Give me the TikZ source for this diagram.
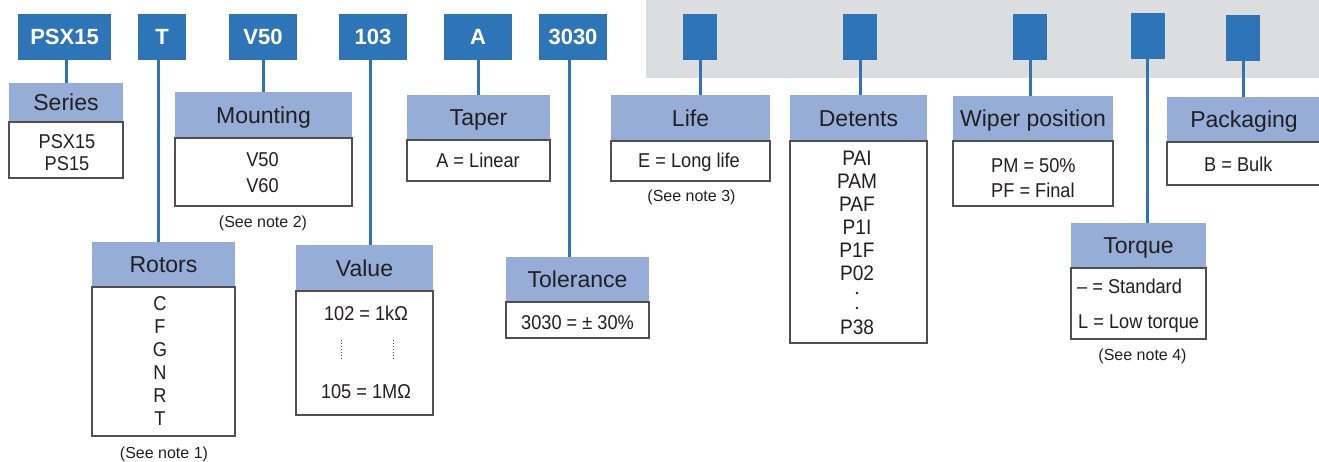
\documentclass[tikz,border=0pt]{standalone}
\usepackage{fontspec}
\setmainfont{Liberation Sans}
\newfontfamily\condfont[FakeStretch=0.91]{Liberation Sans}
\definecolor{codeblue}{HTML}{2E75B8}
\definecolor{hdrblue}{HTML}{95ADD7}
\definecolor{bandgray}{HTML}{DCDDDF}
\definecolor{txt}{HTML}{231F20}
\definecolor{bord}{HTML}{505050}
\tikzset{
  codebox/.style={fill=codeblue, draw=none, text=white, font=\fontsize{22}{26}\selectfont\bfseries, inner sep=0pt, minimum height=46pt, text height=15.75pt, text depth=0pt},
  hdr/.style={fill=hdrblue, draw=none, text=txt, font=\fontsize{23}{27}\selectfont, inner sep=0pt, text height=16.5pt, text depth=0pt},
  bodybox/.style={draw=bord, line width=1.2pt, fill=white, inner sep=0pt},
  bt/.style={text=txt, font=\condfont\fontsize{20}{23}\selectfont, inner sep=0pt, text height=14.3pt, text depth=0pt},
  btl/.style={bt, font=\condfont\fontsize{21}{24}\selectfont, text height=15pt},
  notetext/.style={text=txt, font=\fontsize{16}{19}\selectfont, inner sep=0pt, text height=11.5pt, text depth=0pt},
  conn/.style={draw=codeblue, line width=3pt},
  dotline/.style={draw=black!70, line width=0.7pt, dash pattern=on 1.2pt off 1.8pt},
}
\begin{document}
\begin{tikzpicture}[x=1pt, y=-1pt]
\useasboundingbox (0,0) rectangle (1319,461);
\fill[bandgray] (646,0) rectangle (1319,78);

% code boxes
\node[codebox, minimum width=93pt] (cPSX) at (64.5,37) {PSX15};
\node[codebox, minimum width=48pt] (cT) at (162,37) {T};
\node[codebox, minimum width=68pt] (cV) at (263,37) {V50};
\node[codebox, minimum width=68pt] (c103) at (373,37) {103};
\node[codebox, minimum width=68pt] (cA) at (478,37) {A};
\node[codebox, minimum width=68pt] (c3030) at (573,37) {3030};
\node[codebox, minimum width=34pt] (cLife) at (700,37) {};
\node[codebox, minimum width=34pt] (cDet) at (860,37) {};
\node[codebox, minimum width=34pt] (cWip) at (1030,37) {};
\node[codebox, minimum width=34pt] (cTor) at (1148,36) {};
\node[codebox, minimum width=34pt] (cPack) at (1243,38) {};

% headers and bodies
\node[hdr, minimum width=114pt, minimum height=39pt] (hSer) at (66,102.5) {Series};
\node[bodybox, minimum width=114pt, minimum height=56pt] (bSer) at (66,150) {};
\node[hdr, minimum width=177pt, minimum height=46pt] (hMnt) at (263.5,115) {Mounting};
\node[bodybox, minimum width=177pt, minimum height=68pt] (bMnt) at (263.5,172) {};
\node[hdr, minimum width=143pt, minimum height=45pt] (hRot) at (163.5,264.5) {Rotors};
\node[bodybox, minimum width=143pt, minimum height=149pt] (bRot) at (163.5,361.5) {};
\node[hdr, minimum width=137pt, minimum height=46pt] (hVal) at (364.5,268) {Value};
\node[bodybox, minimum width=137pt, minimum height=124pt] (bVal) at (364.5,353) {};
\node[hdr, minimum width=143pt, minimum height=45pt] (hTap) at (478.5,117.5) {Taper};
\node[bodybox, minimum width=143pt, minimum height=41pt] (bTap) at (478.5,160.5) {};
\node[hdr, minimum width=143pt, minimum height=45pt] (hTol) at (577.5,279.5) {Tolerance};
\node[bodybox, minimum width=143pt, minimum height=36pt] (bTol) at (577.5,320) {};
\node[hdr, minimum width=159pt, minimum height=46pt] (hLife) at (690.5,118) {Life};
\node[bodybox, minimum width=159pt, minimum height=40pt] (bLife) at (690.5,161) {};
\node[hdr, minimum width=137pt, minimum height=46pt] (hDet) at (858.5,118) {Detents};
\node[bodybox, minimum width=137pt, minimum height=202pt] (bDet) at (858.5,242) {};
\node[hdr, minimum width=160pt, minimum height=45pt] (hWip) at (1033,118.5) {Wiper position};
\node[bodybox, minimum width=160pt, minimum height=65pt] (bWip) at (1033,173.5) {};
\node[hdr, minimum width=135pt, minimum height=45pt] (hTor) at (1138.5,245.5) {Torque};
\node[bodybox, minimum width=135pt, minimum height=71pt] (bTor) at (1138.5,303.5) {};
\node[hdr, minimum width=154pt, minimum height=45pt] (hPack) at (1244,119.5) {Packaging};
\node[bodybox, minimum width=154pt, minimum height=43pt] (bPack) at (1244,163.5) {};

% connectors
\draw[conn] (hSer.north |- cPSX.south) -- (hSer.north);
\draw[conn] ([xshift=-4pt]cT.south) -- ([xshift=-4pt]cT.south |- hRot.north);
\draw[conn] (cV.south) -- (cV.south |- hMnt.north);
\draw[conn] ([xshift=-3pt]c103.south) -- ([xshift=-3pt]c103.south |- hVal.north);
\draw[conn] (cA.south) -- (cA.south |- hTap.north);
\draw[conn] ([xshift=-4pt]c3030.south) -- ([xshift=-4pt]c3030.south |- hTol.north);
\draw[conn] (cLife.south) -- (cLife.south |- hLife.north);
\draw[conn] (cDet.south) -- (cDet.south |- hDet.north);
\draw[conn] (cWip.south) -- (cWip.south |- hWip.north);
\draw[conn] ([xshift=-1pt]cTor.south) -- ([xshift=-1pt]cTor.south |- hTor.north);
\draw[conn] (cPack.south) -- (cPack.south |- hPack.north);

% body texts
\node[bt] (tSer1) at (67,141.5) {PSX15};
\node[bt] (tSer2) at (67,163.5) {PS15};
\node[bt] (tMnt1) at (262.5,159.5) {V50};
\node[bt] (tMnt2) at (262.5,185.5) {V60};
\node[bt] (tRot1) at (160,303) {C};
\node[bt] (tRot2) at (160,326.1) {F};
\node[bt] (tRot3) at (160,349.2) {G};
\node[bt] (tRot4) at (160,372.3) {N};
\node[bt] (tRot5) at (160,395.4) {R};
\node[bt] (tRot6) at (160,418.5) {T};
\node[bt] (tVal1) at (366,313.5) {102 = 1kΩ};
\node[bt] (tVal2) at (366,391.5) {105 = 1MΩ};
\draw[dotline] (341,340) -- (341,359);
\draw[dotline] (393,340) -- (393,359);
\node[bt] (tTap) at (478,160.5) {A = Linear};
\node[bt] (tTol) at (577.5,322) {3030 = ± 30\%};
\node[bt] (tLife) at (689,160) {E = Long life};
\node[btl] (tDet1) at (857,157.5) {PAI};
\node[btl] (tDet2) at (857,180.5) {PAM};
\node[btl] (tDet3) at (857,204) {PAF};
\node[btl] (tDet4) at (857,227) {P1I};
\node[btl] (tDet5) at (857,249.5) {P1F};
\node[btl] (tDet6) at (857,272.5) {P02};
\fill[txt] (857,293) circle (1.4);
\fill[txt] (857,308) circle (1.4);
\node[btl] (tDet7) at (857,326.5) {P38};
\node[bt, anchor=west] (tWip1) at (991,165) {PM = 50\%};
\node[bt, anchor=west] (tWip2) at (991,190) {PF = Final};
\node[bt, anchor=west] (tTor1) at (1077,286.5) {– = Standard};
\node[bt, anchor=west] (tTor2) at (1078,321.5) {L = Low torque};
\node[bt, anchor=west] (tPack) at (1204,164.5) {B = Bulk};

% notes
\node[notetext] (n1) at (164,453) {(See note 1)};
\node[notetext] (n2) at (263,221.5) {(See note 2)};
\node[notetext] (n3) at (691.5,195.5) {(See note 3)};
\node[notetext] (n4) at (1142.5,354.5) {(See note 4)};
\end{tikzpicture}
\end{document}
